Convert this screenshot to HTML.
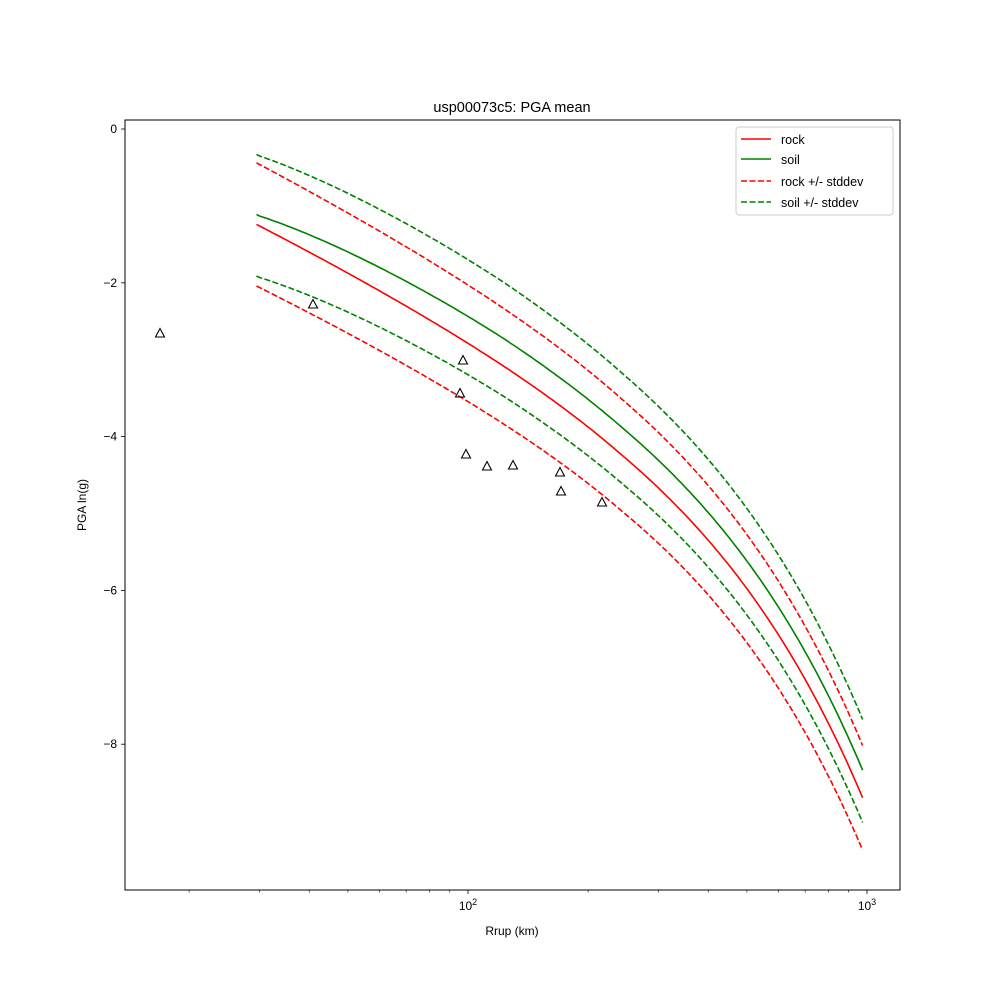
<!DOCTYPE html><html><head><style>body{margin:0;background:#fff}svg{font-family:"Liberation Sans","DejaVu Sans",sans-serif}</style></head><body>
<svg id="s" width="1000" height="1000" xmlns="http://www.w3.org/2000/svg">
<rect width="1000" height="1000" fill="#fff"/>
<g id="curves"></g>
<g id="pts" fill="none" stroke="#000" stroke-width="1.1"></g>
<rect x="125" y="120" width="775" height="770" fill="none" stroke="#000" stroke-width="1"/>
<g id="ticks" stroke="#000" stroke-width="0.8"></g>
<g font-size="12" fill="#000" id="lab"></g>
<text x="512" y="112" font-size="14.5" text-anchor="middle">usp00073c5: PGA mean</text>
<text x="512" y="935" font-size="12" text-anchor="middle">Rrup (km)</text>
<text transform="translate(86,505) rotate(-90)" font-size="12" text-anchor="middle">PGA ln(g)</text>
<g>
<rect x="736" y="127" width="157" height="88" rx="3" fill="#fff" stroke="#ccc"/>
<line x1="741" y1="139" x2="771" y2="139" stroke="red" stroke-width="1.6"/>
<line x1="741" y1="159" x2="771" y2="159" stroke="green" stroke-width="1.6"/>
<line x1="741" y1="181" x2="771" y2="181" stroke="red" stroke-width="1.6" stroke-dasharray="6,2.5"/>
<line x1="741" y1="202" x2="771" y2="202" stroke="green" stroke-width="1.6" stroke-dasharray="6,2.5"/>
<text x="781" y="144" font-size="12.5">rock</text>
<text x="781" y="164" font-size="12.5">soil</text>
<text x="781" y="186" font-size="12.5">rock +/- stddev</text>
<text x="781" y="207" font-size="12.5">soil +/- stddev</text>
</g>
</svg>
<script>
var X=r=>468+399*Math.log10(r/100), Y=v=>129-76.9*v;
function rock(r){return 1.736-0.838*Math.log(r)-0.004869*r - 0.2*Math.sin(Math.PI*(Math.log(r)-3.401)/3.476) + 0.08*Math.max(0,(Math.log(r)-5.5)/1.38);}
function sOff(r){var t=Math.max(0,(Math.log(r)-3.401)/1.204);return Math.min(0.36,0.13+0.22*(1-Math.exp(-2*t))/(1-Math.exp(-2)));}
function sd(r){var t=(Math.log(r)-3.401)/3.476;return 0.8-0.12*t;}
var fns=[[r=>rock(r),'red',''],[r=>rock(r)+sOff(r),'green',''],[r=>rock(r)+sd(r),'red','6,2.5'],[r=>rock(r)-sd(r),'red','6,2.5'],[r=>rock(r)+sOff(r)+sd(r)-0.02,'green','6,2.5'],[r=>rock(r)+sOff(r)-sd(r),'green','6,2.5']];
var h='';
fns.forEach(f=>{var d='';for(var i=0;i<=200;i++){var r=29.5*Math.pow(975/29.5,i/200);d+=(i?'L':'M')+X(r).toFixed(1)+','+Y(f[0](r)).toFixed(1);}h+='<path d="'+d+'" fill="none" stroke="'+f[1]+'" stroke-width="1.6"'+(f[2]?' stroke-dasharray="'+f[2]+'"':'')+'/>';});
document.getElementById('curves').innerHTML=h;
var P=[[160,333],[313,304],[463,360],[460,393],[466,454],[487,466],[513,465],[560,472],[561,491],[602,502]],ph='';
P.forEach(p=>{ph+='<path d="M'+(p[0]-4.5)+','+(p[1]+4)+'L'+p[0]+','+(p[1]-4.5)+'L'+(p[0]+4.5)+','+(p[1]+4)+'Z"/>';});
document.getElementById('pts').innerHTML=ph;
var t='',l='';
for(var v=0;v>=-8;v-=2){var y=Y(v);t+='<line x1="121" y1="'+y+'" x2="125" y2="'+y+'"/>';l+='<text x="117" y="'+(y+4)+'" text-anchor="end">'+(v<0?'\u2212'+(-v):'0')+'</text>';}
[20,30,40,50,60,70,80,90,200,300,400,500,600,700,800,900].forEach(r=>{var x=X(r);t+='<line x1="'+x+'" y1="890" x2="'+x+'" y2="892.5" stroke-width="0.6"/>';});
[100,1000].forEach((r,i)=>{var x=X(r);t+='<line x1="'+x+'" y1="890" x2="'+x+'" y2="894"/>';l+='<text x="'+x+'" y="910" text-anchor="middle">10<tspan dy="-5" font-size="9">'+(i+2)+'</tspan></text>';});
document.getElementById('ticks').innerHTML=t;document.getElementById('lab').innerHTML=l;
</script>
</body></html>
